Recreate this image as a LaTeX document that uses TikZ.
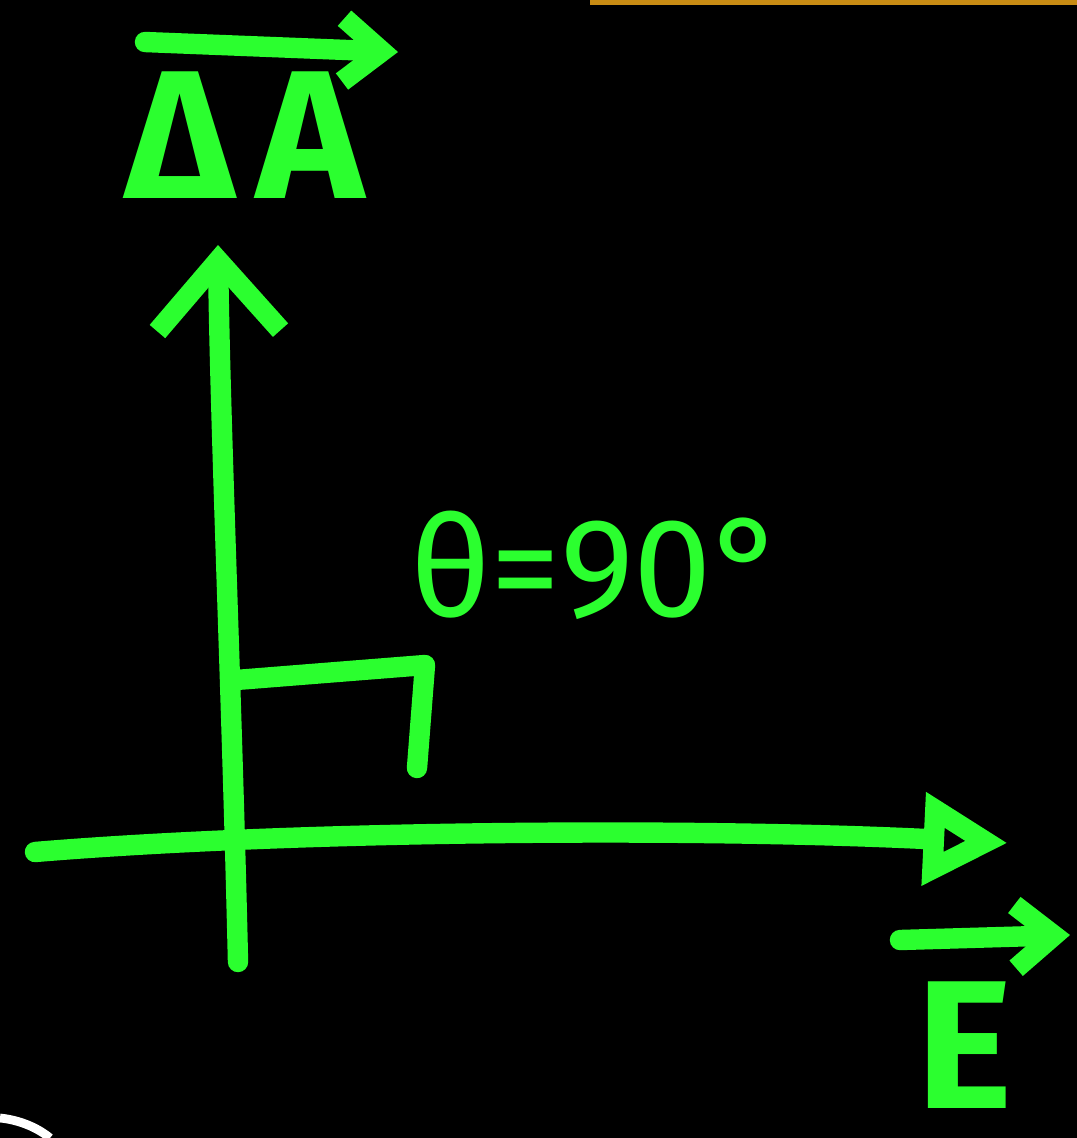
\documentclass[tikz,border=0pt]{standalone}
\usepackage{fontspec}
\setmainfont{Fira Sans}
\usepackage{xcolor}
\usetikzlibrary{arrows.meta, calc, positioning}
\definecolor{ChalkGreen}{RGB}{43,255,47}
\definecolor{EdgeOrange}{RGB}{200,140,20}
\tikzset{
  >=latex,
  % tratti a mano libera
  stroke/.style={ChalkGreen,line width=5.8pt,line cap=round,line join=round},
  label big/.style={ChalkGreen,font=\fontsize{52}{52}\selectfont\bfseries,inner sep=0},
  label thin/.style={ChalkGreen,font=\fontsize{40}{40}\selectfont,inner sep=0},
  vec arrow/.style={stroke,-{Straight Barb[length=11pt,width=18pt,line width=5.8pt]}},
  axis up/.style={stroke,-{Straight Barb[length=20pt,width=35pt,line width=5.8pt]}},
  axis right/.style={stroke,-{Triangle[open,length=24pt,width=25pt,line width=5.8pt]}}
}

\begin{document}
\begin{tikzpicture}[x=0.01cm,y=-0.01cm]
  \fill[black] (0,0) rectangle (1077,1138);
  \useasboundingbox (0,0) rectangle (1077,1138);
  % bordi di altri disegni
  \draw[EdgeOrange,line width=2pt] (590,1) -- (1077,1);
  \draw[white,line width=2.5pt] (0,1118) .. controls (20,1120) and (38,1128) .. (50,1138);

  % assi
  \coordinate (Abot) at (238,962);
  \coordinate (Atop) at (218,245);
  \coordinate (Eleft) at (35,852);
  \coordinate (Eright) at (1008,843);
  \draw[axis up] (Abot) .. controls (232,700) and (220,420) .. (Atop);
  \draw[axis right] (Eleft) .. controls (300,830) and (700,828) .. (Eright);

  % angolo retto
  \coordinate (R1) at (236,680);
  \coordinate (R2) at (425,665);
  \coordinate (R3) at (417,768);
  \draw[stroke] (R1) -- (R2) -- (R3);

  % etichette
  \node[label big] (dA) at (245,135) {Δ\kern0.12em A};
  \coordinate (dAl) at (145,42);
  \coordinate (dAr) at (398,52);
  \draw[vec arrow] (dAl) -- (dAr);

  \node[label big] (E) at (965,1045) {E};
  \coordinate (El) at (900,940);
  \coordinate (Er) at (1070,935);
  \draw[vec arrow] (El) -- (Er);

  \node[label thin] (theta) at (598,565) {θ=90°};
\end{tikzpicture}
\end{document}
